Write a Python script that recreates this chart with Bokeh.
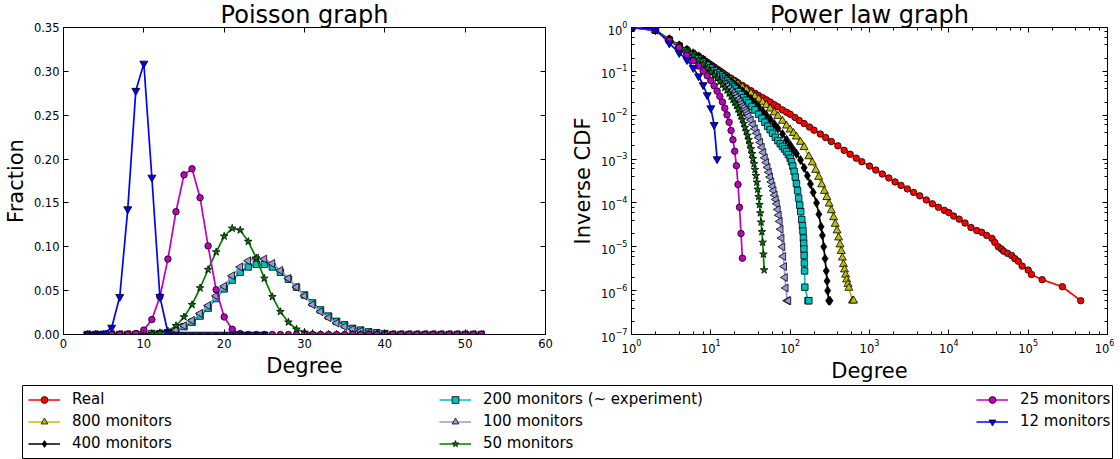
import math
from bokeh.plotting import figure
from bokeh.models import (ColumnDataSource, Range1d, LinearAxis, LogAxis, FixedTicker,
                          SingleIntervalTicker, LogTicker, Legend, LegendItem,
                          PrintfTickFormatter, CustomJSTickFormatter)
from bokeh.layouts import column, row
from bokeh.embed import file_html
from bokeh.resources import INLINE

FONT = "DejaVu Sans"

# ---------------- axis ticks ----------------
poisson_x_ticks = [0, 10, 20, 30, 40, 50, 60]
poisson_y_ticks = [0.0, 0.05, 0.10, 0.15, 0.20, 0.25, 0.30, 0.35]

# ---------------- data: Poisson graph (fraction of nodes per degree) ----------------
poisson_degree = list(range(3, 53))
poisson_degree_12 = list(range(3, 26))
poisson_frac_200 = [0, 0, 0, 0, 0, 0, 0, 0, 0.001, 0.001, 0.002, 0.004, 0.009, 0.014, 0.021,
                    0.030, 0.041, 0.052, 0.062, 0.071, 0.077, 0.080, 0.080, 0.077, 0.071, 0.063,
                    0.054, 0.045, 0.036, 0.028, 0.021, 0.015, 0.011, 0.007, 0.005, 0.003, 0.002,
                    0.001, 0, 0, 0, 0, 0, 0, 0, 0, 0, 0, 0, 0]
poisson_frac_100 = [0, 0, 0, 0, 0, 0, 0, 0, 0, 0.001, 0.002, 0.005, 0.010, 0.016, 0.024, 0.033,
                    0.044, 0.055, 0.067, 0.077, 0.084, 0.087, 0.086, 0.081, 0.073, 0.064, 0.054,
                    0.044, 0.034, 0.026, 0.019, 0.013, 0.009, 0.006, 0.004, 0.002, 0.001,
                    0, 0, 0, 0, 0, 0, 0, 0, 0, 0, 0, 0, 0]
poisson_frac_50 = [0, 0, 0, 0, 0, 0, 0, 0, 0.001, 0.002, 0.004, 0.010, 0.020, 0.034, 0.053, 0.074,
                   0.094, 0.112, 0.121, 0.119, 0.106, 0.087, 0.064, 0.043, 0.026, 0.014, 0.006,
                   0.0025, 0.001, 0, 0, 0, 0, 0, 0, 0, 0, 0, 0, 0, 0, 0, 0, 0, 0, 0, 0, 0, 0, 0]
poisson_frac_25 = [0, 0, 0, 0, 0, 0, 0.001, 0.005, 0.017, 0.043, 0.086, 0.140, 0.182, 0.189,
                   0.156, 0.101, 0.051, 0.020, 0.006, 0.001, 0, 0, 0, 0, 0, 0, 0, 0, 0, 0, 0, 0,
                   0, 0, 0, 0, 0, 0, 0, 0, 0, 0, 0, 0, 0, 0, 0, 0, 0, 0]
poisson_frac_12 = [0, 0, 0.001, 0.008, 0.043, 0.143, 0.278, 0.309, 0.179, 0.043, 0.002,
                   0, 0, 0, 0, 0, 0, 0, 0, 0, 0, 0, 0]

# ---------------- data: Power law graph (inverse CDF of degree) ----------------
real_deg = [1, 2, 3, 4, 5, 6, 7, 8, 9, 10, 11, 12, 13, 14, 15, 16, 18, 20, 22, 25, 28, 32, 36, 40,
            45, 50, 56, 63, 70, 80, 90, 100, 115, 130, 150, 175, 200, 240, 280, 330, 400, 480,
            570, 680, 800, 1000, 1200, 1450, 1750, 2100, 2500, 3000, 3600, 4300, 5200, 6200,
            7400, 8800, 10000, 11500, 13500, 16000, 19000, 22500, 26000, 30000, 35000, 38000,
            42000, 46000, 49000, 55000, 62000, 68000, 75000, 84000, 100000, 110000, 150000,
            270000, 460000]
real_ccdf = [1.0, 0.871, 0.550, 0.398, 0.316, 0.263, 0.224, 0.191, 0.162, 0.141, 0.126, 0.112,
             0.102, 0.0933, 0.0851, 0.0794, 0.0692, 0.0617, 0.0550, 0.0479, 0.0417, 0.0363,
             0.0316, 0.0282, 0.0251, 0.0224, 0.0200, 0.0174, 0.0155, 0.0132, 0.0117, 0.0105,
             0.00891, 0.00759, 0.00646, 0.00537, 0.00457, 0.00372, 0.00309, 0.00251, 0.00200,
             0.00158, 0.00129, 0.00105, 8.71e-4, 6.92e-4, 5.62e-4, 4.57e-4, 3.72e-4, 3.02e-4,
             2.51e-4, 2.09e-4, 1.74e-4, 1.45e-4, 1.17e-4, 9.55e-5, 7.94e-5, 6.76e-5, 6.03e-5,
             5.01e-5, 4.27e-5, 3.47e-5, 2.75e-5, 2.34e-5, 2.14e-5, 1.82e-5, 1.55e-5, 1.26e-5,
             1.0e-5, 8.91e-6, 7.94e-6, 7.08e-6, 6.31e-6, 5.37e-6, 4.68e-6, 3.63e-6, 2.95e-6,
             2.34e-6, 1.78e-6, 1.23e-6, 5.9e-7]

m800_deg = [1, 2, 3, 4, 5, 6, 7, 8, 9, 10, 11, 12, 13, 14, 15, 16, 18, 20, 22, 25, 28, 32, 36, 40,
            45, 50, 56, 63, 70, 80, 90, 100, 110, 120, 135, 150, 172, 190, 210, 229, 250, 270,
            290, 310, 330, 353, 370, 390, 408, 425, 440, 455, 470, 484, 500, 515, 535, 550, 610,
            630]
m800_ccdf = [1.0, 0.871, 0.537, 0.389, 0.309, 0.257, 0.219, 0.186, 0.158, 0.138, 0.123, 0.110,
             0.100, 0.0912, 0.0832, 0.0759, 0.0661, 0.0575, 0.0513, 0.0437, 0.0380, 0.0316,
             0.0269, 0.0234, 0.0200, 0.0170, 0.0141, 0.0115, 0.00955, 0.00741, 0.00575, 0.00468,
             0.00389, 0.00324, 0.00245, 0.00186, 0.00115, 8.32e-4, 5.62e-4, 3.89e-4, 2.63e-4,
             1.86e-4, 1.35e-4, 9.55e-5, 6.76e-5, 4.68e-5, 3.31e-5, 2.34e-5, 1.62e-5, 1.12e-5,
             7.94e-6, 5.62e-6, 3.98e-6, 3.02e-6, 2.29e-6, 1.78e-6, 1.41e-6, 1.15e-6, 5.9e-7,
             5.9e-7]

m400_deg = [1, 2, 3, 4, 5, 6, 7, 8, 9, 10, 11, 12, 13, 14, 15, 16, 18, 20, 22, 25, 28, 32, 36, 40,
            45, 50, 56, 63, 70, 80, 90, 100, 110, 120, 135, 150, 165, 180, 195, 215, 230, 245,
            255, 265, 275, 285, 292, 297, 306, 318]
m400_ccdf = [1.0, 0.871, 0.525, 0.380, 0.302, 0.245, 0.209, 0.178, 0.151, 0.132, 0.115, 0.102,
             0.0933, 0.0832, 0.0759, 0.0692, 0.0589, 0.0501, 0.0437, 0.0355, 0.0295, 0.0234,
             0.0191, 0.0155, 0.0123, 0.0100, 0.00813, 0.00631, 0.00501, 0.00372, 0.00275,
             0.00209, 0.00162, 0.00132, 9.55e-4, 6.31e-4, 4.17e-4, 2.69e-4, 1.74e-4, 1.0e-4,
             5.50e-5, 2.88e-5, 1.82e-5, 1.0e-5, 5.37e-6, 2.82e-6, 1.66e-6, 1.0e-6, 5.9e-7, 5.9e-7]

m200_deg = [1, 2, 3, 4, 5, 6, 7, 8, 9, 10, 11, 12, 13, 14, 15, 16, 17, 18, 19, 20, 22, 24, 26, 28,
            30, 33, 36, 40, 44, 48, 52, 56, 60, 65, 70, 75, 80, 85, 90, 95, 100, 104, 108, 112,
            116, 120, 124, 128, 132, 136, 140, 143, 145, 147, 148, 149, 150, 151, 152, 153, 168,
            172]
m200_ccdf = [1.0, 0.871, 0.513, 0.372, 0.288, 0.234, 0.195, 0.162, 0.138, 0.120, 0.105, 0.0933,
             0.0832, 0.0741, 0.0661, 0.0603, 0.0537, 0.0490, 0.0447, 0.0407, 0.0347, 0.0295,
             0.0251, 0.0219, 0.0191, 0.0158, 0.0132, 0.0105, 0.00851, 0.00692, 0.00562, 0.00468,
             0.00389, 0.00316, 0.00263, 0.00224, 0.00195, 0.00170, 0.00148, 0.00126, 0.00105,
             8.71e-4, 6.92e-4, 5.25e-4, 3.89e-4, 2.75e-4, 1.91e-4, 1.29e-4, 8.91e-5, 6.31e-5,
             4.17e-5, 3.02e-5, 2.29e-5, 1.58e-5, 1.20e-5, 8.91e-6, 6.31e-6, 4.27e-6, 2.82e-6,
             1.20e-6, 5.9e-7, 5.9e-7]

m100_deg = [1, 2, 3, 4, 5, 6, 7, 8, 9, 10, 11, 12, 13, 14, 15, 16, 17, 18, 19, 20, 21, 22, 23, 24,
            25, 26, 27, 28, 29, 30, 32, 34, 36, 38, 40, 42, 44, 46, 48, 50, 52, 54, 56, 58, 60,
            62, 64, 66, 68, 70, 72, 74, 76, 78, 80, 82, 84, 86, 88, 92, 95]
m100_ccdf = [1.0, 0.871, 0.501, 0.355, 0.269, 0.214, 0.174, 0.145, 0.120, 0.102, 0.0891, 0.0776,
             0.0676, 0.0589, 0.0513, 0.0457, 0.0407, 0.0363, 0.0324, 0.0288, 0.0257, 0.0229,
             0.0204, 0.0182, 0.0162, 0.0148, 0.0132, 0.0120, 0.0107, 0.00955, 0.00776, 0.00617,
             0.00490, 0.00389, 0.00309, 0.00240, 0.00186, 0.00141, 0.00107, 8.32e-4, 6.46e-4,
             5.01e-4, 3.89e-4, 3.02e-4, 2.40e-4, 1.91e-4, 1.51e-4, 1.20e-4, 9.55e-5, 7.08e-5,
             5.25e-5, 3.80e-5, 2.51e-5, 1.58e-5, 1.0e-5, 6.03e-6, 3.55e-6, 2.0e-6, 1.15e-6,
             5.9e-7, 5.9e-7]

m50_deg = list(range(1, 48))
m50_ccdf = [1.0, 0.861, 0.525, 0.380, 0.288, 0.229, 0.182, 0.145, 0.117, 0.0955, 0.0813, 0.0692,
            0.0589, 0.0501, 0.0427, 0.0372, 0.0316, 0.0269, 0.0229, 0.0195, 0.0166, 0.0138,
            0.0115, 0.00955, 0.00794, 0.00646, 0.00525, 0.00427, 0.00347, 0.00275, 0.00219,
            0.00170, 0.00132, 0.00102, 7.76e-4, 5.75e-4, 4.17e-4, 2.95e-4, 2.04e-4, 1.38e-4,
            9.12e-5, 5.89e-5, 3.63e-5, 2.19e-5, 1.26e-5, 6.76e-6, 2.95e-6]

m25_deg = list(range(1, 26))
m25_ccdf = [1.0, 0.851, 0.501, 0.347, 0.234, 0.174, 0.132, 0.102, 0.0794, 0.0617, 0.0468,
            0.0355, 0.0269, 0.0200, 0.0145, 0.0102, 0.00692, 0.00447, 0.00275, 0.00151, 7.08e-4,
            2.63e-4, 7.94e-5, 2.0e-5, 5.5e-6]

m12_deg = list(range(1, 13))
m12_ccdf = [1.0, 0.912, 0.437, 0.263, 0.182, 0.120, 0.0776, 0.0490, 0.0288, 0.0145, 0.00603,
            0.001]

series_labels = ["Real", "800 monitors", "400 monitors", "200 monitors (~ experiment)",
                 "100 monitors", "50 monitors", "25 monitors", "12 monitors"]

# ---------------- styles ----------------
STY = {
    "Real": dict(color="#ff0000", marker="circle", fill="#ff0000", size=6.5, angle=0.0),
    "800 monitors": dict(color="#bfbf00", marker="triangle", fill="#bfbf00", size=8, angle=0.0),
    "400 monitors": dict(color="#000000", marker="diamond", fill="#000000", size=9, angle=0.0),
    "200 monitors (~ experiment)": dict(color="#00bfbf", marker="square", fill="#00bfbf", size=6.5, angle=0.0),
    "100 monitors": dict(color="#9999dd", marker="triangle", fill="#9999dd", size=8, angle=math.pi / 2),
    "50 monitors": dict(color="#008000", marker="star", fill="#008000", size=8, angle=0.0),
    "25 monitors": dict(color="#bf00bf", marker="circle", fill="#bf00bf", size=6.5, angle=0.0),
    "12 monitors": dict(color="#0000ff", marker="inverted_triangle", fill="#0000ff", size=8, angle=0.0),
}

LW = 1.7


def draw(p, name, src):
    s = STY[name]
    lr = p.line("x", "y", source=src, line_color=s["color"], line_width=LW)
    sr = p.scatter("x", "y", source=src, marker=s["marker"], size=s["size"], angle=s["angle"],
                   fill_color=s["fill"], line_color="black", line_width=0.8)
    return lr, sr


def style_axis(ax, linear=True, labels=True):
    ax.axis_line_color = "black"
    ax.axis_line_width = 1
    ax.major_tick_in = 5
    ax.major_tick_out = 0
    ax.minor_tick_in = 3
    ax.minor_tick_out = 0
    ax.major_tick_line_color = "black"
    ax.minor_tick_line_color = None if linear else "black"
    ax.major_label_text_font = FONT
    ax.major_label_text_color = "black"
    ax.axis_label_text_font = FONT
    ax.axis_label_text_font_size = "21px"
    ax.axis_label_text_font_style = "normal"
    ax.axis_label_text_color = "black"
    if labels:
        ax.major_label_text_font_size = "11.5px"
        ax.major_label_standoff = 4
        ax.axis_label_standoff = 3
    else:
        ax.formatter = CustomJSTickFormatter(code="return ''")
        ax.major_label_text_font_size = "1px"
        ax.major_label_standoff = 0
        ax.axis_line_color = None


def style_title(p, text):
    p.title.text = text
    p.title.align = "center"
    p.title.text_font = FONT
    p.title.text_font_size = "24px"
    p.title.text_font_style = "normal"
    p.title.text_color = "black"
    p.title.standoff = -3
    p.title.offset = 0


TOP_H = 385
FRAME_BOT = 50

# ---------------- left: Poisson ----------------
pL = figure(width=568, height=TOP_H, x_range=Range1d(0, 60), y_range=Range1d(0, 0.35),
            output_backend="svg", toolbar_location=None,
            min_border_left=63, min_border_right=23, min_border_top=0,
            min_border_bottom=FRAME_BOT)
style_title(pL, "Poisson graph")
pL.xgrid.grid_line_color = None
pL.ygrid.grid_line_color = None
pL.outline_line_color = "black"
pL.xaxis.ticker = FixedTicker(ticks=poisson_x_ticks)
pL.yaxis.ticker = FixedTicker(ticks=poisson_y_ticks)
pL.yaxis.formatter = PrintfTickFormatter(format="%.2f")
pL.xaxis.axis_label = "Degree"
pL.yaxis.axis_label = "Fraction"
style_axis(pL.xaxis[0])
style_axis(pL.yaxis[0])
axt = LinearAxis(ticker=FixedTicker(ticks=poisson_x_ticks))
style_axis(axt, labels=False)
pL.add_layout(axt, "above")
axr = LinearAxis(ticker=FixedTicker(ticks=poisson_y_ticks))
style_axis(axr, labels=False)
pL.add_layout(axr, "right")

left_data = [
    ("200 monitors (~ experiment)", poisson_degree, poisson_frac_200),
    ("100 monitors", poisson_degree, poisson_frac_100),
    ("50 monitors", poisson_degree, poisson_frac_50),
    ("25 monitors", poisson_degree, poisson_frac_25),
    ("12 monitors", poisson_degree_12, poisson_frac_12),
]
for name, xs, ys in left_data:
    draw(pL, name, ColumnDataSource(dict(x=xs, y=ys)))

# ---------------- right: power law ----------------
pR = figure(width=546, height=TOP_H, x_axis_type="log", y_axis_type="log",
            x_range=Range1d(1, 1e6), y_range=Range1d(1e-7, 1),
            output_backend="svg", toolbar_location=None,
            min_border_left=58, min_border_right=7, min_border_top=0,
            min_border_bottom=FRAME_BOT)
style_title(pR, "Power law graph")
pR.xgrid.grid_line_color = None
pR.ygrid.grid_line_color = None
pR.outline_line_color = "black"
pR.xaxis.ticker = LogTicker(desired_num_ticks=10)
pR.yaxis.ticker = LogTicker(desired_num_ticks=10)
pR.xaxis.axis_label = "Degree"
pR.yaxis.axis_label = "Inverse CDF"
style_axis(pR.xaxis[0], linear=False)
style_axis(pR.yaxis[0], linear=False)
axt2 = LogAxis(ticker=LogTicker(desired_num_ticks=10))
style_axis(axt2, linear=False, labels=False)
pR.add_layout(axt2, "above")
axr2 = LogAxis(ticker=LogTicker(desired_num_ticks=10))
style_axis(axr2, linear=False, labels=False)
pR.add_layout(axr2, "right")

right_data = [
    ("Real", real_deg, real_ccdf),
    ("800 monitors", m800_deg, m800_ccdf),
    ("400 monitors", m400_deg, m400_ccdf),
    ("200 monitors (~ experiment)", m200_deg, m200_ccdf),
    ("100 monitors", m100_deg, m100_ccdf),
    ("50 monitors", m50_deg, m50_ccdf),
    ("25 monitors", m25_deg, m25_ccdf),
    ("12 monitors", m12_deg, m12_ccdf),
]
right_src = {}
for name, xs, ys in right_data:
    right_src[name] = ColumnDataSource(dict(x=xs, y=ys))
    draw(pR, name, right_src[name])

# ---------------- legend strip ----------------
pG = figure(width=1114, height=74, x_range=Range1d(-2, -1), y_range=Range1d(-2, -1),
            x_axis_type=None, y_axis_type=None, output_backend="svg", toolbar_location=None,
            min_border_left=22, min_border_right=2, min_border_top=0, min_border_bottom=1)
pG.outline_line_color = "black"
pG.grid.visible = False

items = {}
for name in series_labels:
    lr, sr = draw(pG, name, right_src[name])
    items[name] = LegendItem(label=name, renderers=[lr, sr])


def make_legend(names, loc):
    lg = Legend(items=[items[n] for n in names], location=loc, orientation="vertical")
    lg.border_line_color = None
    lg.background_fill_alpha = 0
    lg.padding = 0
    lg.margin = 0
    lg.spacing = 4
    lg.glyph_width = 32
    lg.glyph_height = 17
    lg.label_height = 17
    lg.label_standoff = 12
    lg.label_text_font = FONT
    lg.label_text_font_size = "15px"
    lg.label_text_baseline = "middle"
    lg.label_text_color = "black"
    return lg


pG.add_layout(make_legend(series_labels[0:3], (6, 6)))
pG.add_layout(make_legend(series_labels[3:6], (417, 6)))
pG.add_layout(make_legend(series_labels[6:8], (954, 28)))

layout = column(row(pL, pR), pG)
open("out.html", "w").write(file_html(layout, INLINE))
